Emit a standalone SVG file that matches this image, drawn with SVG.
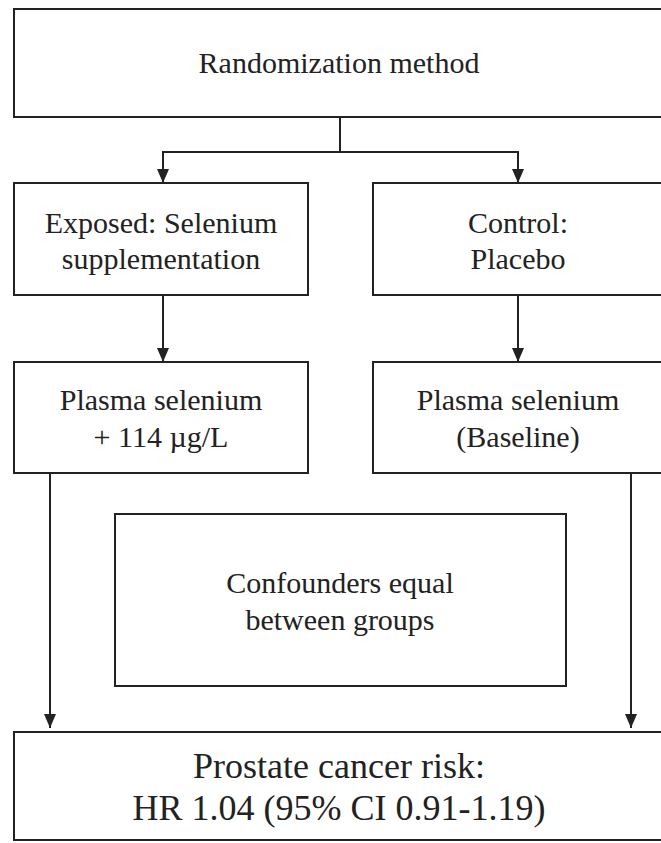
<svg xmlns="http://www.w3.org/2000/svg" width="661" height="843" viewBox="0 0 661 843">
<style>
.box{fill:#fff;stroke:#222;stroke-width:2}
.t{font-family:"Liberation Serif","Times New Roman",serif;font-size:30px;fill:#222;text-anchor:middle}
.tb{font-size:36px}
.ln{fill:none;stroke:#222;stroke-width:2}
</style>
<defs>
<marker id="ah" viewBox="0 0 14 12" refX="14" refY="6" markerWidth="14" markerHeight="12" markerUnits="userSpaceOnUse" orient="auto">
<path d="M0,0 L14,6 L0,12 Z" fill="#222"/>
</marker>
</defs>
<rect width="661" height="843" fill="#fff"/>
<g id="connectors">
<path class="ln" d="M340,117 V152 H163 V183" marker-end="url(#ah)"/>
<path class="ln" d="M340,152 H518 V183" marker-end="url(#ah)"/>
<path class="ln" d="M163,295 V362" marker-end="url(#ah)"/>
<path class="ln" d="M518,295 V362" marker-end="url(#ah)"/>
<path class="ln" d="M50,473 V728" marker-end="url(#ah)"/>
<path class="ln" d="M631,473 V728" marker-end="url(#ah)"/>
</g>
<g id="randomization">
<rect class="box" x="14" y="9" width="650" height="108"/>
<text class="t" x="339" y="73">Randomization method</text>
</g>
<g id="exposed">
<rect class="box" x="14" y="183" width="294" height="112"/>
<text class="t" x="161" y="233">Exposed: Selenium</text>
<text class="t" x="161" y="269">supplementation</text>
</g>
<g id="control">
<rect class="box" x="373" y="183" width="291" height="112"/>
<text class="t" x="518" y="233">Control:</text>
<text class="t" x="518" y="269">Placebo</text>
</g>
<g id="plasma-exposed">
<rect class="box" x="14" y="362" width="294" height="111"/>
<text class="t" x="161" y="410">Plasma selenium</text>
<text class="t" x="161" y="447">+ 114 µg/L</text>
</g>
<g id="plasma-control">
<rect class="box" x="373" y="362" width="291" height="111"/>
<text class="t" x="518" y="410">Plasma selenium</text>
<text class="t" x="518" y="447">(Baseline)</text>
</g>
<g id="confounders">
<rect class="box" x="115" y="514" width="451" height="172"/>
<text class="t" x="340" y="593">Confounders equal</text>
<text class="t" x="340" y="630">between groups</text>
</g>
<g id="outcome">
<rect class="box" x="14" y="732" width="650" height="108"/>
<text class="t tb" x="339" y="778">Prostate cancer risk:</text>
<text class="t tb" x="339" y="820">HR 1.04 (95% CI 0.91-1.19)</text>
</g>
</svg>
